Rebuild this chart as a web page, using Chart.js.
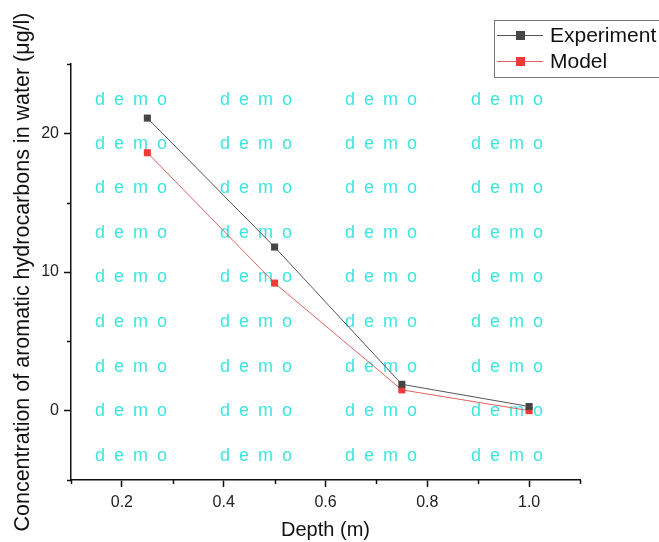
<!DOCTYPE html>
<html>
<head>
<meta charset="utf-8">
<script src="https://cdn.jsdelivr.net/npm/chart.js@4"></script>
<style>
  body { margin: 0; background: #fff; }
  #wrap { position: relative; width: 659px; height: 542px; }
</style>
</head>
<body>
<div id="wrap"><canvas id="chart"></canvas></div>
<script>
// data
const depth = [0.25, 0.5, 0.75, 1.0];
const experiment = [21.1, 11.8, 1.9, 0.3];
const model = [18.6, 9.2, 1.5, 0.0];
const seriesNames = ['Experiment', 'Model'];

const FONT = "'Liberation Sans', Arial, sans-serif";

// watermark grid ("demo" stamp over the plot)
const wmCols = [95, 220, 345, 471];
const wmRows = [100, 144, 188, 233, 277, 322, 367, 411, 456];
const wmLetters = ['d', 'e', 'm', 'o'];
const wmOffsets = [0, 19, 38, 62];

const pts = (xs, ys) => xs.map((x, i) => ({ x, y: ys[i] }));

const watermark = {
    id: 'watermark',
    beforeDatasetsDraw(chart) {
        const ctx = chart.ctx;
        ctx.save();
        ctx.fillStyle = '#3ee6e0';
        ctx.font = '18px ' + FONT;
        ctx.textBaseline = 'middle';
        wmRows.forEach(y => wmCols.forEach(x => {
            wmLetters.forEach((ch, k) => ctx.fillText(ch, x + wmOffsets[k], y));
        }));
        ctx.restore();
    }
};

// shorter minor ticks (Origin style)
const minorTicks = {
    id: 'minorTicks',
    afterDraw(chart) {
        const { ctx, scales: { x, y } } = chart;
        ctx.save();
        ctx.strokeStyle = '#111';
        ctx.lineWidth = 1.5;
        [0.1, 0.3, 0.5, 0.7, 0.9, 1.1].forEach(v => {
            const px = Math.round(x.getPixelForValue(v)) + 0.5;
            ctx.beginPath(); ctx.moveTo(px, y.bottom); ctx.lineTo(px, y.bottom + 4); ctx.stroke();
        });
        [-5, 5, 15, 25].forEach(v => {
            const py = Math.round(y.getPixelForValue(v)) + 0.5;
            ctx.beginPath(); ctx.moveTo(x.left, py); ctx.lineTo(x.left - 4, py); ctx.stroke();
        });
        ctx.restore();
    }
};

// legend box in the top-right corner
const boxLegend = {
    id: 'boxLegend',
    afterDraw(chart) {
        const ctx = chart.ctx;
        const ds = chart.data.datasets;
        ctx.save();
        ctx.strokeStyle = '#777';
        ctx.lineWidth = 1;
        ctx.strokeRect(494.5, 20.5, 170, 57);
        ctx.font = '21px ' + FONT;
        ctx.textBaseline = 'middle';
        ds.forEach((d, i) => {
            const cy = 35 + i * 26;
            ctx.strokeStyle = d.borderColor;
            ctx.beginPath(); ctx.moveTo(497, cy + 0.5); ctx.lineTo(543, cy + 0.5); ctx.stroke();
            ctx.fillStyle = d.pointBackgroundColor;
            ctx.fillRect(516, cy - 4, 9, 9);
            ctx.fillStyle = '#111';
            ctx.fillText(seriesNames[i], 550, cy + 1);
        });
        ctx.restore();
    }
};

new Chart(document.getElementById('chart'), {
    type: 'line',
    data: {
        datasets: [
            {
                label: seriesNames[0], data: pts(depth, experiment),
                borderColor: '#555', borderWidth: 1,
                pointStyle: 'rect', pointRadius: 5, pointBorderWidth: 0,
                pointBackgroundColor: '#454545', pointBorderColor: '#454545'
            },
            {
                label: seriesNames[1], data: pts(depth, model),
                borderColor: '#e06060', borderWidth: 1,
                pointStyle: 'rect', pointRadius: 5, pointBorderWidth: 0,
                pointBackgroundColor: '#f03a3a', pointBorderColor: '#f03a3a'
            }
        ]
    },
    options: {
        responsive: true, maintainAspectRatio: false, animation: false,
        layout: { padding: { left: 0, top: 64, right: 79, bottom: 0 } },
        plugins: { legend: { display: false }, tooltip: { enabled: false } },
        scales: {
            x: {
                type: 'linear', min: 0.1, max: 1.1,
                afterFit: s => { s.height = 62; },
                border: { color: '#111', width: 1.5 },
                grid: { drawOnChartArea: false, tickLength: 7, tickWidth: 1.5,
                    color: c => (Math.round(c.tick.value * 10) % 2 === 0 ? '#111' : 'transparent') },
                ticks: {
                    stepSize: 0.1, color: '#222', font: { family: FONT, size: 16 }, padding: 6,
                    maxRotation: 0, autoSkip: false,
                    callback: v => (Math.round(v * 10) % 2 === 0 ? v.toFixed(1) : '')
                },
                title: { display: true, text: 'Depth (m)', color: '#111',
                    font: { family: FONT, size: 20 }, padding: { top: 0, bottom: 0 } }
            },
            y: {
                min: -5, max: 25,
                afterFit: s => { s.width = 71; },
                border: { color: '#111', width: 1.5 },
                grid: { drawOnChartArea: false, tickLength: 7, tickWidth: 1.5,
                    color: c => (Math.round(c.tick.value) % 10 === 0 ? '#111' : 'transparent') },
                ticks: {
                    stepSize: 5, color: '#222', font: { family: FONT, size: 16 }, padding: 5,
                    callback: v => (v % 10 === 0 ? v : '')
                },
                title: { display: true, text: 'Concentration of aromatic hydrocarbons in water (μg/l)',
                    color: '#111', font: { family: FONT, size: 21.5 }, padding: { top: 10, bottom: 0 } }
            }
        }
    },
    plugins: [watermark, minorTicks, boxLegend]
});
</script>
</body>
</html>
